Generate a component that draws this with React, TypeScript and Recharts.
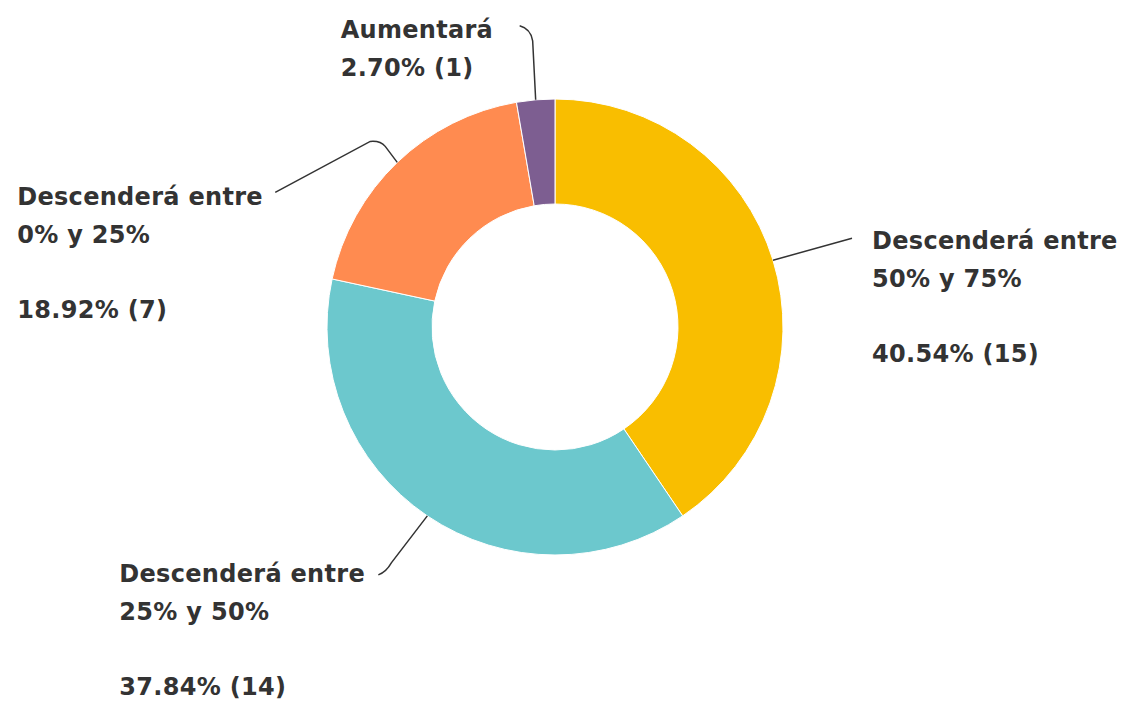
import { Cell, Pie, PieChart } from "recharts";

const categories = [
  "Descenderá entre 50% y 75%",
  "Descenderá entre 25% y 50%",
  "Descenderá entre 0% y 25%",
  "Aumentará",
];
const responses = [15, 14, 7, 1];
const colors = ["#F9BE00", "#6CC8CD", "#FF8B50", "#7D5E91"];

const total = responses.reduce((a, b) => a + b, 0);
const data = categories.map((name, i) => ({ name, value: responses[i] }));

// label text and leader line, offsets from the point on the slice edge
const labelLayout = [
  { dx: 99, dy: -11, gap: true, line: "M0,0 L79,-22" },
  { dx: -308, dy: 66, gap: true, line: "M0,0 L-36,47 Q-41,56 -49,59" },
  { dx: -380, dy: 43, gap: true, line: "M0,0 L-12,-16 Q-17,-22 -27,-21 L-122,30" },
  { dx: -195, dy: -62, gap: false, line: "M0,0 L-3,-59 Q-5,-71 -16,-74" },
];

const RAD = Math.PI / 180;
const LINE_H = 37.7;

function renderLabel(props: any) {
  const { cx, cy, midAngle, outerRadius, index, value, name } = props;
  const sx = cx + outerRadius * Math.cos(-midAngle * RAD);
  const sy = cy + outerRadius * Math.sin(-midAngle * RAD);
  const lay = labelLayout[index];
  const lines: string[] = String(name).replace("entre ", "entre\n").split("\n");
  if (lay.gap) lines.push("");
  lines.push(`${((value / total) * 100).toFixed(2)}% (${value})`);
  return (
    <g key={`lbl-${index}`}>
      <path
        d={lay.line}
        transform={`translate(${sx},${sy})`}
        fill="none"
        stroke="#333"
        strokeWidth={1.5}
      />
      {lines.map((t, i) => (
        <text
          key={i}
          x={sx + lay.dx}
          y={sy + lay.dy + i * LINE_H}
          fill="#333"
          fontSize={24}
          fontWeight={700}
          letterSpacing={0.3}
          fontFamily="'DejaVu Sans', sans-serif"
          textAnchor="start"
        >
          {t}
        </text>
      ))}
    </g>
  );
}

export default function App() {
  return (
    <div style={{ position: "absolute", left: 0, top: 0, background: "#fff" }}>
      <PieChart width={1124} height={704} margin={{ top: 0, right: 0, bottom: 0, left: 0 }}>
        <Pie
          data={data}
          dataKey="value"
          nameKey="name"
          cx={555}
          cy={327}
          innerRadius={123}
          outerRadius={228}
          startAngle={90}
          endAngle={-270}
          stroke="#fff"
          strokeWidth={1}
          label={renderLabel}
          labelLine={false}
          isAnimationActive={false}
        >
          {data.map((d, i) => (
            <Cell key={d.name} fill={colors[i]} />
          ))}
        </Pie>
      </PieChart>
    </div>
  );
}
